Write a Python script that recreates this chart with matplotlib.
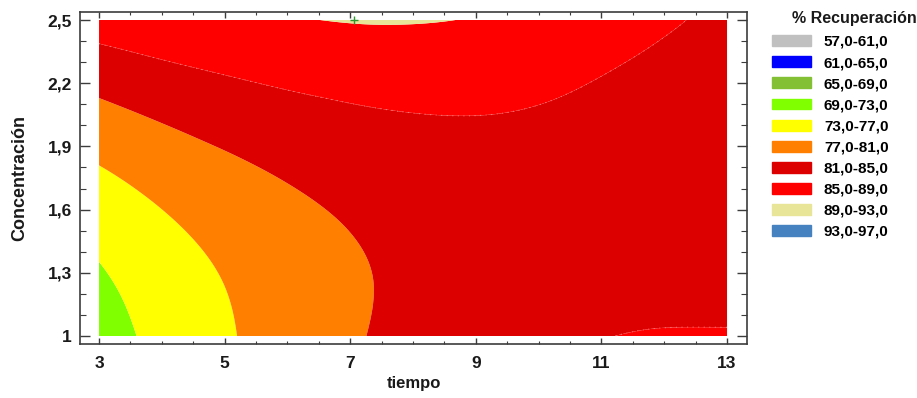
import numpy as np
import matplotlib
matplotlib.use("Agg")
import matplotlib.pyplot as plt
import matplotlib.tri as mtri
from matplotlib.patches import Patch
from matplotlib.ticker import FixedLocator, MultipleLocator

plt.rcParams['font.family'] = ['Liberation Sans', 'DejaVu Sans']

# ---------------- data ----------------
tiempo = [3, 4, 5, 6, 7, 8, 9, 10, 11, 12, 13]
concentracion = [1.0, 1.25, 1.5, 1.75, 2.0, 2.25, 2.5]
# % Recuperación on the grid: one list per concentration, values along tiempo
rec_c100 = [71.33, 74.09, 76.55, 78.71, 80.57, 82.13, 83.38, 84.30, 84.90, 85.26, 85.34]
rec_c125 = [72.39, 74.87, 77.04, 78.92, 80.49, 81.77, 82.74, 83.41, 83.79, 83.80, 83.50]
rec_c150 = [74.07, 76.26, 78.15, 79.74, 81.03, 82.02, 82.71, 83.10, 83.19, 82.98, 82.47]
rec_c175 = [76.36, 78.26, 79.87, 81.17, 82.18, 82.88, 83.29, 83.39, 83.20, 82.70, 81.91]
rec_c200 = [79.26, 80.88, 82.20, 83.22, 84.05, 84.55, 84.70, 84.48, 83.90, 83.04, 81.96]
rec_c225 = [82.77, 84.11, 85.14, 85.95, 86.45, 86.62, 86.45, 85.95, 85.10, 83.99, 82.63]
rec_c250 = [86.90, 87.85, 88.45, 88.78, 89.18, 89.22, 88.82, 88.00, 86.90, 85.56, 83.91]

levels = [57, 61, 65, 69, 73, 77, 81, 85, 89, 93, 97]
level_colors = ['#c0c0c0', '#0000ff', '#84c034', '#80ff00', '#ffff00',
                '#ff8000', '#dc0000', '#ff0000', '#e8e498', '#4682c0']

opt_t = [7.06]
opt_c = [2.5]

xticks = [3, 5, 7, 9, 11, 13]
yticks = [1.0, 1.3, 1.6, 1.9, 2.2, 2.5]
ytick_labels = ['1', '1,3', '1,6', '1,9', '2,2', '2,5']

# ---------------- figure ----------------
W, H = 917, 398
fig = plt.figure(figsize=(W / 100, H / 100), dpi=100)
ax = fig.add_axes([80 / W, 54 / H, 667 / W, 332 / H])

Z = np.array([rec_c100, rec_c125, rec_c150, rec_c175, rec_c200, rec_c225, rec_c250])
T, C = np.meshgrid(tiempo, concentracion)
cs = 4.0  # scale concentration so the grid cells are square for interpolation
tri = mtri.Triangulation(T.ravel(), C.ravel() * cs)
interp = mtri.CubicTriInterpolator(tri, Z.ravel(), kind='min_E')
refiner = mtri.UniformTriRefiner(tri)
tri_f, z_f = refiner.refine_field(Z.ravel(), triinterpolator=interp, subdiv=4)
tri_plot = mtri.Triangulation(tri_f.x, tri_f.y / cs, tri_f.triangles)

ax.tricontourf(tri_plot, z_f, levels=levels, colors=level_colors, antialiased=True)
ax.tricontour(tri_plot, z_f, levels=[85], colors=['#ff8a8a'], linewidths=0.8,
              linestyles=[(0, (1, 4))], alpha=0.7)

ax.plot(opt_t, opt_c, linestyle='none', marker='+', color='#2e9a2e',
        markersize=6, markeredgewidth=1.0, clip_on=False, zorder=5)

ax.set_xlim(2.697, 13.318)
ax.set_ylim(0.962, 2.538)

ax.xaxis.set_major_locator(FixedLocator(xticks))
ax.xaxis.set_minor_locator(MultipleLocator(0.5))
ax.yaxis.set_major_locator(FixedLocator(yticks))
ax.yaxis.set_minor_locator(MultipleLocator(0.1))
ax.set_yticklabels(ytick_labels)
ax.set_xticklabels([str(v) for v in xticks])

spine_col = '#3c3c3c'
for s in ax.spines.values():
    s.set_color(spine_col)
    s.set_linewidth(1.2)

ax.tick_params(axis='both', which='both', direction='in', top=True, right=True,
               colors=spine_col, labelcolor='#1a1a1a')
ax.tick_params(axis='x', which='major', length=4, width=1, pad=9, labelsize=12.5)
ax.tick_params(axis='x', which='minor', length=2.2, width=0.8)
ax.tick_params(axis='y', which='major', length=7, width=1, pad=6, labelsize=12.5)
ax.tick_params(axis='y', which='minor', length=4, width=0.8)
for lab in ax.get_xticklabels() + ax.get_yticklabels():
    lab.set_fontweight('bold')

ax.set_xlabel('tiempo', fontsize=12, fontweight='bold', color='#1a1a1a')
ax.xaxis.set_label_coords(0.5, -0.095)
ax.set_ylabel('Concentración', fontsize=13, fontweight='bold', color='#1a1a1a')
ax.yaxis.set_label_coords(-0.078, 0.5)

# legend
labels = [f"{levels[i]:.1f}-{levels[i + 1]:.1f}".replace('.', ',')
          for i in range(len(level_colors))]
handles = [Patch(facecolor=c, edgecolor=c) for c in level_colors]
fig.legend(handles, labels, loc='upper left', bbox_to_anchor=(772 / W, 1 - 35 / H),
           frameon=False, borderpad=0, borderaxespad=0, handlelength=2.55,
           handleheight=0.72, handletextpad=0.85, labelspacing=0.465,
           prop={'size': 11, 'weight': 'bold'})
fig.text(792 / W, 1 - 19 / H, '% Recuperación', ha='left', va='center',
         fontsize=11.5, fontweight='bold', color='#1a1a1a')

fig.savefig('out.png', dpi=100)
